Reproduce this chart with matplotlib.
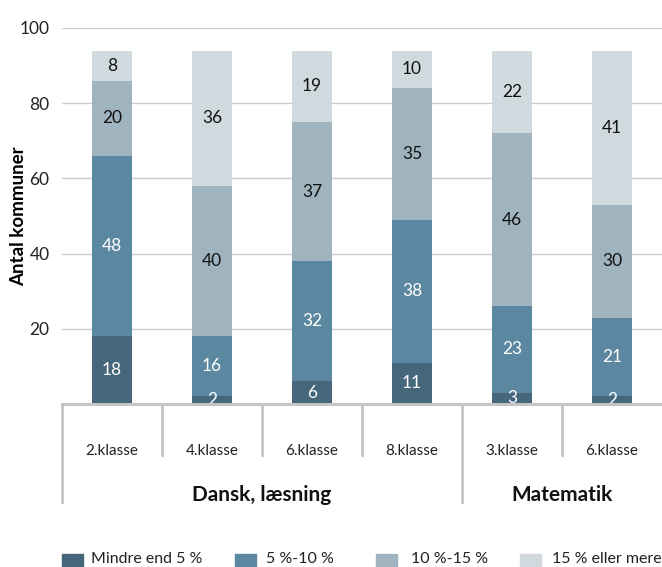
import matplotlib.pyplot as plt
from matplotlib.patches import Rectangle
import numpy as np

plt.rcParams['font.family'] = ['Lato', 'DejaVu Sans']

# ── Data ──────────────────────────────────────────────────────────────────────
categories = ["2.klasse", "4.klasse", "6.klasse", "8.klasse", "3.klasse", "6.klasse"]
groups = [("Dansk, læsning", 0, 4), ("Matematik", 4, 6)]
series_names = ["Mindre end 5 %", "5 %-10 %", "10 %-15 %", "15 % eller mere"]
under5 = [18, 2, 6, 11, 3, 2]
p5_10 = [48, 16, 32, 38, 23, 21]
p10_15 = [20, 40, 37, 35, 46, 30]
over15 = [8, 36, 19, 10, 22, 41]
yticks = [20, 40, 60, 80, 100]

colors = ["#46677b", "#5b87a0", "#9fb4bf", "#d0d9dd"]
text_colors = ["white", "white", "#111111", "#111111"]

W, H = 662, 567
fig = plt.figure(figsize=(W / 100, H / 100), dpi=100)
ax = fig.add_axes([62 / W, (H - 404) / H, 600 / W, 376 / H])

x = np.arange(len(categories)) + 0.5
bottom = np.zeros(len(categories))
for vals, col, tcol in zip([under5, p5_10, p10_15, over15], colors, text_colors):
    vals = np.array(vals)
    ax.bar(x, vals, width=0.4, bottom=bottom, color=col, zorder=3)
    for xi, b, v in zip(x, bottom, vals):
        ax.text(xi, b + v / 2, str(v), ha="center", va="center",
                fontsize=12.5, color=tcol, zorder=4)
    bottom += vals

ax.set_xlim(0, len(categories))
ax.set_ylim(0, 100)
for s in ax.spines.values():
    s.set_visible(False)
ax.set_xticks([])
ax.set_yticks(yticks)
ax.set_yticklabels([str(t) for t in yticks], fontsize=12.5, color="#222222")
ax.tick_params(axis="y", length=0, pad=9)
for t in yticks:
    ax.axhline(t, color="#cccccc", linewidth=1, zorder=1)
ax.set_ylabel("Antal kommuner", fontsize=13.5, fontweight="bold")
ax.yaxis.set_label_coords(-(62 - 27) / 600, 0.5)

# ── Category axis below the bars ──────────────────────────────────────────────
ppu = 376 / 100  # pixels per unit
y_short = -(455 - 404) / ppu
y_long = -(502 - 404) / ppu
y_cat = -(451 - 404) / ppu
y_grp = -(495 - 404) / ppu

ax.plot([0, len(categories)], [0, 0], color="#c4c4c4", linewidth=2.2,
        clip_on=False, zorder=5)
group_edges = {g[1] for g in groups}
for i in range(len(categories)):
    ybot = y_long if i in group_edges else y_short
    ax.plot([i, i], [0, ybot], color="#c4c4c4", linewidth=2, clip_on=False)
for xi, c in zip(x, categories):
    ax.text(xi, y_cat, c, ha="center", va="center", fontsize=11,
            color="#222222", clip_on=False)
for name, a, b in groups:
    ax.text((a + b) / 2, y_grp, name, ha="center", va="center", fontsize=15,
            fontweight="bold", color="#111111", clip_on=False)

# ── Legend ────────────────────────────────────────────────────────────────────
sq_x = [62, 235, 376, 520]
txt_x = [91, 266, 411, 552]
for sx, tx, col, name in zip(sq_x, txt_x, colors, series_names):
    fig.patches.append(Rectangle((sx / W, 0), 21 / W, (H - 554) / H,
                                 transform=fig.transFigure, color=col))
    fig.text(tx / W, (H - 559) / H, name, ha="left", va="center",
             fontsize=11.5, color="#222222")

fig.savefig("out.png", dpi=100)
